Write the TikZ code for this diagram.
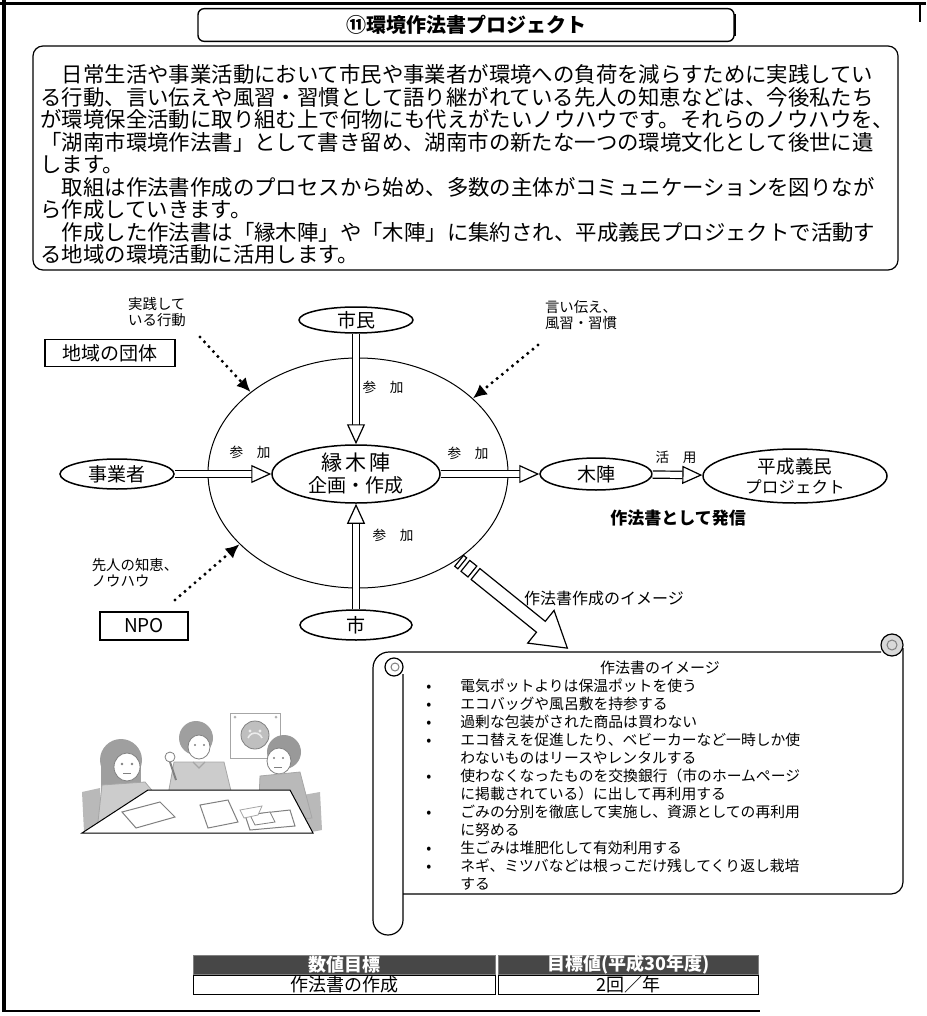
\documentclass[tikz,border=0pt]{standalone}
\usepackage{fontspec}
\setmainfont{Noto Sans CJK JP}
\usetikzlibrary{shapes.geometric, arrows.meta, positioning, calc}

\tikzset{
  oval/.style={ellipse, draw, line width=0.75pt, fill=white, inner xsep=0pt, inner ysep=-1pt,
    font=\fontsize{9.5}{11}\selectfont},
  tag/.style={draw, line width=0.6pt, inner sep=0pt, font=\fontsize{9.5}{11}\selectfont},
  note/.style={align=left, inner sep=0pt, font=\fontsize{7.2}{7.8}\selectfont},
  joinlab/.style={inner sep=0pt, font=\fontsize{6.8}{8}\selectfont},
  hollow/.style={double, double distance=3pt, line width=0.6pt,
    -{Triangle[length=10pt, width=9pt, fill=white, line width=0.6pt]}},
  dotarrow/.style={line width=1.7pt, line cap=round, dash pattern=on 0pt off 3.3pt,
    -{Latex[length=7pt, width=6.5pt]}},
  cellhead/.style={draw=gray, fill=black!72, text=white, minimum height=9.5pt, inner sep=0pt,
    font=\fontsize{9}{10}\selectfont\bfseries},
  cell/.style={draw, line width=0.5pt, minimum height=9.5pt, inner sep=0pt,
    font=\fontsize{9}{10}\selectfont},
}

\begin{document}
\begin{tikzpicture}[x=0.5pt, y=-0.5pt]
    \useasboundingbox (0,0) rectangle (926,1016);

    % -------- page frame --------
    \draw[line width=2pt] (4,0) -- (4,1012);
    \draw[line width=1.5pt] (0,4) -- (926,4);
    \draw[line width=0.8pt] (920,4) -- (920,22);
    \draw[line width=0.8pt] (4,1011) -- (760,1011);

    % -------- heading and introduction --------
    \node[draw, rounded corners=3pt, line width=0.7pt, minimum width=268pt, minimum height=14pt,
      font=\fontsize{10}{12}\selectfont\bfseries] (title) at (466,25) {⑪環境作法書プロジェクト};
    \draw[line width=1.1pt] ([xshift=0.2pt, yshift=-3pt]title.north east) -- ([xshift=0.2pt, yshift=3pt]title.south east);

    \node[draw, rounded corners=5pt, line width=0.6pt, minimum width=432.5pt, minimum height=112pt]
      (introbox) at (465.5,158) {};
    \node[anchor=north west, align=left, inner sep=0pt, font=\fontsize{10.7}{11.25}\selectfont]
      (intro) at (40,64) {%
　日常生活や事業活動において市民や事業者が環境への負荷を減らすために実践してい\\
る行動、言い伝えや風習・習慣として語り継がれている先人の知恵などは、今後私たち\\
が環境保全活動に取り組む上で何物にも代えがたいノウハウです。それらのノウハウを、\\
「湖南市環境作法書」として書き留め、湖南市の新たな一つの環境文化として後世に遺\\
します。\\
　取組は作法書作成のプロセスから始め、多数の主体がコミュニケーションを図りなが\\
ら作成していきます。\\
　作成した作法書は「縁木陣」や「木陣」に集約され、平成義民プロジェクトで活動す\\
る地域の環境活動に活用します。};

    % -------- participation diagram --------
    \node[ellipse, draw, line width=0.5pt, minimum width=150pt, minimum height=115pt] (circ) at (358,473) {};

    \node[oval, minimum width=84pt, minimum height=29pt, align=center] (core) at (356,474)
      {{\fontsize{10.5}{11}\selectfont 縁\hspace{1.5pt}木\hspace{1.5pt}陣}\\企画・作成};
    \node[oval, minimum width=57pt, minimum height=13pt] (shimin) at (356,320) {市民};
    \node[oval, minimum width=57pt, minimum height=15pt] (jigyo) at (117,474) {事業者};
    \node[oval, minimum width=56pt, minimum height=15pt] (shi) at (356,625) {市};
    \node[oval, minimum width=56pt, minimum height=16pt] (mokujin) at (596,474) {木陣};
    \node[oval, minimum width=92pt, minimum height=27pt, align=center,
      font=\fontsize{8.3}{10}\selectfont] (gimin) at (795,476) {{\fontsize{9.3}{10}\selectfont 平成義民}\\プロジェクト};

    \node[tag, minimum width=65pt, minimum height=13.5pt] (chiiki) at (110,353) {地域の団体};
    \node[tag, minimum width=44pt, minimum height=14pt] (npo) at (144,626) {NPO};

    \node[note] (jissen) at (157,312) {実践して\\いる行動};
    \node[note] (iitsutae) at (581,315) {言い伝え、\\風習・習慣};
    \node[note] (senjin) at (135,573) {先人の知恵、\\ノウハウ};

    % dotted hints into the circle
    \coordinate (d1) at (200,337);
    \coordinate (d2) at (538,345);
    \coordinate (d3) at (175,600);
    \draw[dotarrow] (d1) -- (circ.143.5);
    \draw[dotarrow] (d2) -- (circ.33);
    \draw[dotarrow] (d3) -- (circ.211.4);

    % participation arrows
    \draw[hollow] (shimin) -- (core);
    \draw[hollow] (jigyo) -- (core);
    \draw[hollow] (shi) -- (core);
    \draw[hollow] (core) -- (mokujin);
    \draw[hollow] (mokujin) -- (gimin);

    \node[joinlab] (sanka1) at (383,387) {参　加};
    \node[joinlab] (sanka2) at (250,452) {参　加};
    \node[joinlab] (sanka3) at (468,453) {参　加};
    \node[joinlab] (sanka4) at (393,535) {参　加};
    \node[joinlab] (katsuyo) at (676,457) {活　用};

    \node[font=\fontsize{8.5}{10}\selectfont\bfseries] (hasshin) at (678,518) {作法書として発信};
    \node[font=\fontsize{8}{10}\selectfont] (imglab) at (604,598) {作法書作成のイメージ};

    % striped arrow down to the scroll
    \coordinate (imgtail) at (circ.-41.5);
    \begin{scope}[shift={(imgtail)}, rotate=-38.9, line width=0.6pt]
      \draw[fill=white] (2,-7) rectangle (6,7);
      \draw[fill=white] (10,-7) rectangle (19,7);
      \draw[fill=white] (23,-7) -- (107,-7) -- (107,-21) -- (141,0) -- (107,21) -- (107,7) -- (23,7) -- cycle;
    \end{scope}

    % -------- scroll with the list --------
    \begin{scope}[line width=0.6pt]
      \draw (373,920) -- (373,668) arc[start angle=180, end angle=270, radius=16] -- (881,652);
      \draw (903,648) -- (903,882) arc[start angle=0, end angle=90, radius=12] -- (403,894);
      \filldraw[fill=gray!30] (892,645) circle (11);
      \draw[gray, line width=0.5pt] (892,645) circle (5);
      \draw (403,674) -- (403,920) arc[start angle=0, end angle=180, radius=15];
      \filldraw[fill=white] (394,667) circle (9);
      \draw[gray, line width=0.5pt] (395,667) circle (4);
    \end{scope}

    \node[font=\fontsize{7.5}{9}\selectfont] (listtitle) at (660,668) {作法書のイメージ};
    \node[anchor=north west, align=left, inner sep=0pt, font=\fontsize{7.4}{9}\selectfont] (manners) at (426,679) {%
\makebox[17pt][l]{•}電気ポットよりは保温ポットを使う\\
\makebox[17pt][l]{•}エコバッグや風呂敷を持参する\\
\makebox[17pt][l]{•}過剰な包装がされた商品は買わない\\
\makebox[17pt][l]{•}エコ替えを促進したり、ベビーカーなど一時しか使\\
\hspace*{17pt}わないものはリースやレンタルする\\
\makebox[17pt][l]{•}使わなくなったものを交換銀行（市のホームページ\\
\hspace*{17pt}に掲載されている）に出して再利用する\\
\makebox[17pt][l]{•}ごみの分別を徹底して実施し、資源としての再利用\\
\hspace*{17pt}に努める\\
\makebox[17pt][l]{•}生ごみは堆肥化して有効利用する\\
\makebox[17pt][l]{•}ネギ、ミツバなどは根っこだけ残してくり返し栽培\\
\hspace*{17pt}する};

    % -------- meeting illustration --------
    \fill[gray!55] (82,792) -- (100,788) -- (102,828) -- (84,832) -- cycle;
    \fill[gray!55] (303,795) -- (320,792) -- (322,830) -- (306,833) -- cycle;
    \draw[gray!70, line width=0.5pt] (230,713) rectangle (280,758);
    \fill[gray!60] (235,717) circle (1.5) (276,717) circle (1.5);
    \filldraw[fill=gray!50, draw=gray] (255,735) circle (14);
    \fill[gray!15] (250,731) circle (1.6) (260,731) circle (1.6);
    \draw[gray!15, line width=0.8pt] (248,738) arc[start angle=200, end angle=340, radius=7.5];
    % left girl
    \fill[gray!75] (121,760) circle (21);
    \fill[gray!75] (101,760) rectangle (141,792);
    \filldraw[fill=white, draw=gray] (127,767) ellipse (13 and 14);
    \fill[gray] (122,764) circle (1.3) (132,764) circle (1.3);
    \draw[gray] (123,773) -- (131,773);
    \filldraw[fill=gray!40, draw=gray!70] (102,785) -- (145,782) -- (160,800) -- (178,796) -- (180,806) -- (150,820) -- (98,822) -- cycle;
    % middle woman
    \fill[gray!75] (196,738) circle (17);
    \filldraw[fill=white, draw=gray] (199,747) ellipse (11 and 12);
    \fill[gray] (195,745) circle (1.2) (204,745) circle (1.2);
    \filldraw[fill=gray!40, draw=gray!70] (174,762) -- (224,762) -- (232,795) -- (168,795) -- cycle;
    \draw[gray!70, line width=0.6pt] (193,762) -- (199,768) -- (205,762);
    \filldraw[fill=white, draw=gray] (170,757) circle (5);
    \draw[gray, line width=1pt] (170,762) -- (176,780);
    % right boy
    \fill[gray!80] (284,752) circle (17);
    \filldraw[fill=white, draw=gray] (279,761) ellipse (12 and 13);
    \fill[gray] (274,758) circle (1.2) (283,758) circle (1.2);
    \draw[gray] (274,767) -- (282,767);
    \filldraw[fill=gray!55, draw=gray!70] (260,776) -- (300,772) -- (312,818) -- (258,822) -- cycle;
    % table and papers
    \filldraw[fill=white, draw=black, line width=0.5pt] (148,790) -- (290,790) -- (313,833) -- (82,833) -- cycle;
    \draw[gray, line width=0.5pt] (122,812) -- (160,802) -- (175,817) -- (136,828) -- cycle;
    \draw[gray, line width=0.5pt] (200,805) -- (228,800) -- (238,822) -- (208,828) -- cycle;
    \draw[gray, line width=0.5pt] (245,815) -- (290,810) -- (295,826) -- (250,830) -- cycle;
    \filldraw[fill=white, draw=gray] (250,815) -- (270,812) -- (275,822) -- (255,825) -- cycle;
    \filldraw[fill=white, draw=gray!70] (240,810) -- (262,806) -- (258,815) -- (244,818) -- cycle;

    % -------- target table --------
    \node[cellhead, minimum width=151pt, anchor=north west] (h1) at (193,955) {数値目標};
    \node[cellhead, minimum width=130pt, right=1pt of h1] (h2) {目標値(平成30年度)};
    \node[cell, minimum width=151pt, below=0pt of h1] (c1) {作法書の作成};
    \node[cell, minimum width=130pt, below=0pt of h2] (c2) {2回／年};

\end{tikzpicture}
\end{document}
